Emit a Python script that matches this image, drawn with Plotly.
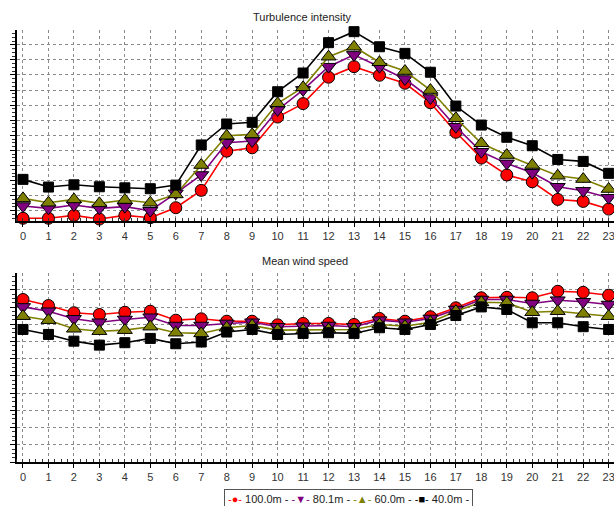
import plotly.graph_objects as go

hours = list(range(24))
hour_labels = [str(h) for h in hours]

# Turbulence intensity (relative units; axis has no labels)
ti_100 = [-0.50, -0.50, -0.31, -0.55, -0.31, -0.46, 0.20, 1.35, 3.95, 4.17, 6.21, 7.10,
          8.85, 9.55, 8.98, 8.45, 7.16, 5.20, 3.49, 2.37, 1.92, 0.75, 0.62, 0.11]
ti_80 = [0.31, 0.16, 0.38, 0.16, 0.27, 0.00, 1.15, 2.37, 4.51, 4.62, 6.68, 8.01,
         9.55, 10.33, 9.55, 8.73, 7.47, 5.57, 3.91, 3.14, 2.52, 1.59, 1.32, 0.86]
ti_60 = [0.82, 0.53, 0.75, 0.49, 0.71, 0.53, 1.08, 3.03, 4.97, 5.06, 7.12, 8.18,
         10.21, 10.87, 9.84, 9.26, 8.00, 6.13, 4.47, 3.69, 3.03, 2.32, 2.10, 1.44]
ti_40 = [2.08, 1.57, 1.72, 1.59, 1.52, 1.46, 1.70, 4.36, 5.75, 5.86, 7.89, 9.13,
         11.14, 11.87, 10.87, 10.43, 9.18, 6.94, 5.68, 4.87, 4.31, 3.40, 3.27, 2.48]

# Mean wind speed
ws_100 = [9.44, 9.09, 8.67, 8.57, 8.70, 8.76, 8.24, 8.32, 8.18, 8.18, 7.97, 8.05,
          8.05, 7.99, 8.34, 8.18, 8.44, 8.96, 9.54, 9.57, 9.54, 9.92, 9.86, 9.69]
ws_80 = [9.01, 8.76, 8.32, 8.12, 8.28, 8.41, 7.93, 7.93, 8.05, 8.12, 7.86, 7.89,
         7.93, 7.86, 8.24, 8.12, 8.34, 8.86, 9.44, 9.44, 9.21, 9.40, 9.31, 9.15]
ws_60 = [8.47, 8.24, 7.74, 7.60, 7.66, 7.86, 7.51, 7.47, 7.80, 7.93, 7.66, 7.66,
         7.70, 7.70, 7.99, 7.89, 8.12, 8.76, 9.28, 9.25, 8.70, 8.76, 8.61, 8.47]
ws_40 = [7.70, 7.41, 7.02, 6.79, 6.93, 7.18, 6.87, 6.97, 7.55, 7.70, 7.41, 7.47,
         7.51, 7.47, 7.80, 7.70, 7.99, 8.51, 9.01, 8.86, 8.09, 8.09, 7.86, 7.70]

series_names = ["100.0m -", "80.1m -", "60.0m -", "40.0m -"]
colors = ["#FF0000", "#800080", "#808000", "#000000"]
symbols = ["circle", "triangle-down", "triangle-up", "square"]
legend_glyphs = ["●", "▼", "▲", "■"]
sizes = [12, 13, 13, 10]

W, H = 614, 506
FONT = "Arial, 'Liberation Sans', sans-serif"

fig = go.Figure()

ti_series = [ti_100, ti_80, ti_60, ti_40]
ws_series = [ws_100, ws_80, ws_60, ws_40]

for name, vals, c, s, sz in zip(series_names, ti_series, colors, symbols, sizes):
    fig.add_trace(go.Scatter(x=hours, y=vals, mode="lines+markers", xaxis="x", yaxis="y", name=name,
                             line=dict(color=c, width=1.6),
                             marker=dict(symbol=s, size=sz, color=c, line=dict(color="black", width=1)),
                             showlegend=False, cliponaxis=False))
for name, vals, c, s, sz in zip(series_names, ws_series, colors, symbols, sizes):
    fig.add_trace(go.Scatter(x=hours, y=vals, mode="lines+markers", xaxis="x2", yaxis="y2", name=name,
                             line=dict(color=c, width=1.6),
                             marker=dict(symbol=s, size=sz, color=c, line=dict(color="black", width=1)),
                             showlegend=False, cliponaxis=False))

xdom = [16.5 / W, 1.0]
top_dom = [(H - 221) / H, (H - 30) / H]
bot_dom = [(H - 462) / H, (H - 273) / H]
xr = [-0.255, 23.21]

common_x = dict(range=xr, tickmode="array", tickvals=hours, ticktext=hour_labels,
                showgrid=True, gridcolor="#8a8a8a", griddash="3px,3px", gridwidth=1,
                showline=True, linecolor="black", linewidth=1.5,
                ticks="outside", ticklen=4, tickcolor="black",
                tickfont=dict(family=FONT, size=11, color="#333"),
                ticklabeloverflow="allow",
                minor=dict(dtick=0.25, tick0=0, ticks="inside", ticklen=3, tickcolor="#333", showgrid=False),
                zeroline=False, fixedrange=True)
common_y = dict(showgrid=True, gridcolor="#8a8a8a", griddash="3px,3px", gridwidth=1,
                showline=True, linecolor="black", linewidth=1.5,
                ticks="outside", ticklen=5, tickcolor="black", showticklabels=False,
                dtick=1, tick0=0,
                minor=dict(dtick=0.25, tick0=0, ticks="outside", ticklen=3, tickcolor="#333", showgrid=False),
                zeroline=False, fixedrange=True)

legend_parts = []
for name, c, g in zip(series_names, colors, legend_glyphs):
    legend_parts.append(f"<span style='color:{c}'>-{g}-</span> {name}")
legend_text = " ".join(legend_parts)

fig.update_layout(
    width=W, height=H,
    margin=dict(l=0, r=0, t=0, b=0, autoexpand=False),
    paper_bgcolor="white", plot_bgcolor="white",
    showlegend=False,
    xaxis=dict(domain=xdom, anchor="y", **common_x),
    yaxis=dict(domain=top_dom, anchor="x", range=[-0.68, 11.98], **common_y),
    xaxis2=dict(domain=xdom, anchor="y2", **common_x),
    yaxis2=dict(domain=bot_dom, anchor="x2", range=[0, 10.98], **common_y),
    annotations=[
        dict(text="Turbulence intensity", x=302 / W, y=(H - 17) / H, xref="paper", yref="paper",
             showarrow=False, font=dict(family=FONT, size=11, color="#222"), xanchor="center", yanchor="middle"),
        dict(text="Mean wind speed", x=305 / W, y=(H - 261) / H, xref="paper", yref="paper",
             showarrow=False, font=dict(family=FONT, size=11, color="#222"), xanchor="center", yanchor="middle"),
        dict(text=legend_text, x=224 / W, y=(H - 489) / H, xref="paper", yref="paper",
             showarrow=False, font=dict(family=FONT, size=11, color="#222"), xanchor="left", yanchor="top",
             bordercolor="#555", borderwidth=1, borderpad=3, bgcolor="white"),
    ],
)

fig.write_html("out.html", config={"displayModeBar": False},
               post_script="document.body.style.margin='0';document.body.style.overflow='hidden';")
